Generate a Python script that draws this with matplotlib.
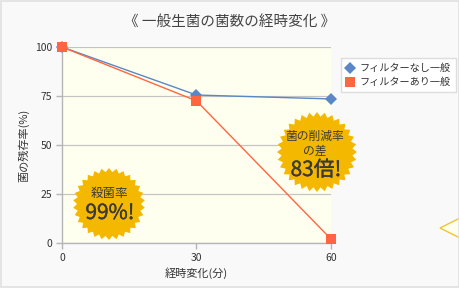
import numpy as np
import matplotlib
matplotlib.use("Agg")
import matplotlib.pyplot as plt
from matplotlib.patches import Polygon, Rectangle
import matplotlib.patheffects as pe

plt.rcParams['font.family'] = ['Noto Sans CJK JP', 'DejaVu Sans']

title = "《 一般生菌の菌数の経時変化 》"
xlabel = "経時変化(分)"
ylabel = "菌の残存率(%)"
times = [0, 30, 60]
series_names = ["フィルターなし一般", "フィルターあり一般"]
no_filter = [100, 75.5, 73.5]
with_filter = [100, 72.5, 2]
yticks = [0, 25, 50, 75, 100]

W, H = 460, 288
fig = plt.figure(figsize=(W / 100, H / 100), dpi=100)
fig.patch.set_facecolor("#f9f9f9")

ax = fig.add_axes([62 / W, (H - 243) / H, (331 - 62) / W, (243 - 47) / H])
ax.set_facecolor("#fffff0")
ax.set_xlim(0, 60)
ax.set_ylim(0, 100)
ax.set_xticks(times)
ax.set_yticks(yticks)
ax.grid(axis='y', color="#c4c4c4", linewidth=0.9)
ax.set_axisbelow(True)
for s in ["top", "right"]:
    ax.spines[s].set_visible(False)
for s in ["left", "bottom"]:
    ax.spines[s].set_color("#b5b5b5")
    ax.spines[s].set_linewidth(1)
ax.tick_params(colors="#b5b5b5", labelcolor="#333333", labelsize=7.5, length=4, width=1, pad=3)

ax.plot(times, no_filter, color="#5b87c6", linewidth=1, marker="D", markersize=6.5,
        markerfacecolor="#5b87c6", markeredgewidth=0, label=series_names[0], clip_on=False, zorder=3)
ax.plot(times, with_filter, color="#ff6640", linewidth=1, marker="s", markersize=6.5,
        markerfacecolor="#ff6640", markeredgewidth=0, label=series_names[1], clip_on=False, zorder=4)

ax.set_xlabel(xlabel, fontsize=8, color="#333333", labelpad=3)
ax.set_ylabel(ylabel, fontsize=8, color="#333333", labelpad=4)
fig.text(230 / W, 1 - 23 / H, title, ha="center", va="center", fontsize=10.5, color="#444444")

h, l = ax.get_legend_handles_labels()
leg = fig.legend(h, l, loc="upper left", bbox_to_anchor=(336 / W, 1 - 53 / H), fontsize=7.3,
                 frameon=True, fancybox=False, edgecolor="#dddddd", facecolor="white",
                 handlelength=0.8, handletextpad=0.5, borderpad=0.5, labelspacing=0.4,
                 framealpha=1)
leg.get_frame().set_linewidth(1)
for t in leg.get_texts():
    t.set_color("#333333")

# overlay in pixel coordinates for decorations
ov = fig.add_axes([0, 0, 1, 1], facecolor="none")
ov.set_xlim(0, W)
ov.set_ylim(H, 0)
ov.axis("off")

def star(cx, cy, ro, ri, n):
    ang = np.linspace(0, 2 * np.pi, 2 * n, endpoint=False) - np.pi / 2
    r = np.where(np.arange(2 * n) % 2 == 0, ro, ri)
    return np.column_stack([cx + r * np.cos(ang), cy + r * np.sin(ang)])

gold = "#f4b800"
ov.add_patch(Polygon(star(109, 204, 36, 32, 30), closed=True, facecolor=gold, edgecolor="none", zorder=5))
ov.add_patch(Polygon(star(317, 152, 40, 35.5, 32), closed=True, facecolor=gold, edgecolor="none", zorder=5))

tc = "#3a3a3a"
fl = [pe.withStroke(linewidth=0.25, foreground=tc)]
ov.text(109, 193, "殺菌率", ha="center", va="center", fontsize=9, color=tc, zorder=6)
ov.text(110, 213, "99%!", ha="center", va="center", fontsize=15, color=tc, zorder=6, path_effects=fl)
ov.text(315, 136, "菌の削減率", ha="center", va="center", fontsize=8.5, color=tc, zorder=6)
ov.text(315, 151, "の差", ha="center", va="center", fontsize=8.5, color=tc, zorder=6)
ov.text(316, 170, "83倍!", ha="center", va="center", fontsize=15, color=tc, zorder=6, path_effects=fl)

# pointer at right edge
ov.add_patch(Polygon([[460, 218], [440, 228], [460, 238]], closed=False,
                     facecolor="#fffff0", edgecolor="#eec630", linewidth=1, zorder=5))
# figure border
ov.add_patch(Rectangle((0.5, 0.5), W - 1, H - 1.5, facecolor="none", edgecolor="#e0e0e0", linewidth=1.2, zorder=7))

fig.savefig("out.png", dpi=100, facecolor=fig.get_facecolor())
